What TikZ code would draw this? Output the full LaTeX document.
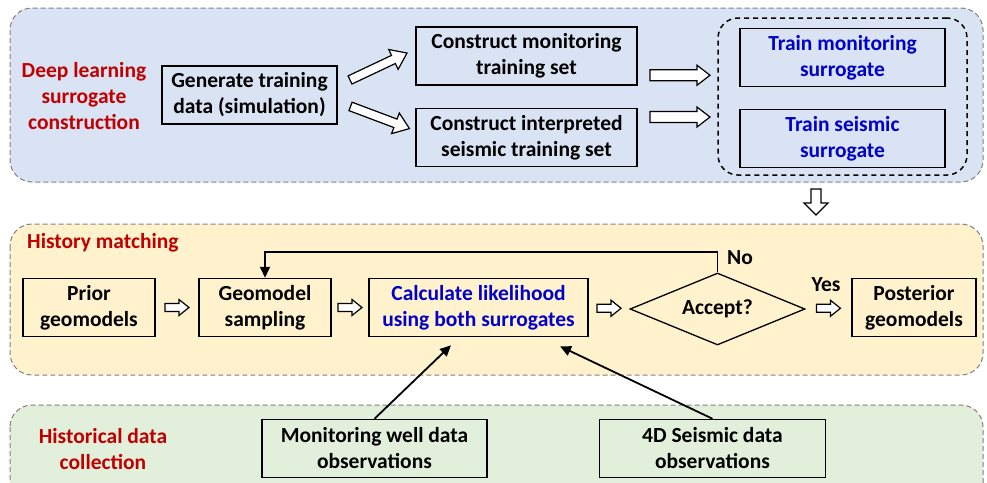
\documentclass[tikz,border=0pt]{standalone}
\usepackage{fontspec}
\setmainfont{Carlito}
\usetikzlibrary{shapes.geometric,arrows.meta,calc}
\definecolor{panelblue}{HTML}{DAE3F3}
\definecolor{panelyellow}{HTML}{FFF2CC}
\definecolor{panelgreen}{HTML}{E2EFDA}
\definecolor{headred}{HTML}{C00000}
\definecolor{stepblue}{HTML}{0000C8}
\definecolor{panelline}{HTML}{808080}

% hollow block arrow pointing along +x: {length}{shaft width}{head width}{head length}
\tikzset{
  pics/hollowarrow/.style n args={4}{code={
    \draw[line width=1.2pt, fill=white, line join=miter]
      ({-#1/2},{-#2/2}) -- ({#1/2-#4},{-#2/2}) -- ({#1/2-#4},{-#3/2}) -- ({#1/2},0)
      -- ({#1/2-#4},{#3/2}) -- ({#1/2-#4},{#2/2}) -- ({-#1/2},{#2/2}) -- cycle;
  }}
}

\begin{document}
\begin{tikzpicture}[x=1pt,y=-1pt,
  txt/.style={font=\fontsize{21.5}{26}\selectfont\bfseries, align=center, inner sep=0pt},
  box/.style={txt, draw=black, line width=1.5pt, minimum height=58pt},
  panel/.style={draw=panelline, line width=1pt, rounded corners=22pt, dash pattern=on 5pt off 3pt},
  blk/.style={line width=1.8pt, -{Triangle[length=11pt,width=10pt]}}
]
\useasboundingbox (0,0) rectangle (987,482);
\clip (0,0) rectangle (987,482);

% stage panels
\draw[panel, fill=panelblue] (10,8) rectangle (983,182);
\draw[panel, fill=panelyellow] (10,224) rectangle (983,375);
\draw[panel, fill=panelgreen] (10,405) rectangle (983,530);

% stage titles
\node[txt, text=headred] (titleA) at (84,96) {Deep learning\\surrogate\\construction};
\node[txt, text=headred, anchor=west] (titleB) at (27,243) {History matching};
\node[txt, text=headred] (titleC) at (103,449.5) {Historical data\\collection};

% surrogate construction
\node[box, minimum width=175pt] (gen) at (249.5,95) {Generate training\\data (simulation)};
\node[box, minimum width=221pt] (cm) at (526.5,56) {Construct monitoring\\training set};
\node[box, minimum width=221pt] (ci) at (526.5,137.5) {Construct interpreted\\seismic training set};
\node[draw=black, line width=1.5pt, dash pattern=on 5pt off 4pt, rounded corners=20pt,
  minimum width=249pt, minimum height=157pt, inner sep=0pt] (grp) at (842.5,96.5) {};
\node[box, text=stepblue, minimum width=205pt] (tm) at (842.5,57.5) {Train monitoring\\surrogate};
\node[box, text=stepblue, minimum width=205pt] (ts) at (842.5,138.5) {Train seismic\\surrogate};

\pic[rotate=25.3] at (378.5,66.5) {hollowarrow={63}{9}{22}{15}};
\pic[rotate=-20.6] at (380,117.5) {hollowarrow={63}{9}{22}{15}};
\pic at ($(cm.east)!0.5!(grp.west)+(2.5,-1)$) {hollowarrow={60}{11}{20}{13}};
\pic at ($(ci.east)!0.5!(grp.west)+(2.5,0)$) {hollowarrow={60}{11}{20}{13}};
\pic[rotate=-90] at (816,202) {hollowarrow={26}{10}{24}{12}};

% history matching
\node[box, minimum width=132pt] (prior) at (89,307.5) {Prior\\geomodels};
\node[box, minimum width=132pt] (geo) at (265,307.5) {Geomodel\\sampling};
\node[box, text=stepblue, minimum width=219pt] (calc) at (478.5,307.5) {Calculate likelihood\\using both surrogates};
\node[diamond, draw=black, line width=1.3pt, aspect=2.43, minimum width=175pt, minimum height=72pt,
  inner sep=0pt, font=\fontsize{21.5}{26}\selectfont\bfseries] (accept) at (717.5,309) {Accept?};
\node[box, minimum width=124pt] (post) at (914,307.5) {Posterior\\geomodels};

\pic at ($(prior.east)!0.5!(geo.west)$) {hollowarrow={24}{8}{16}{10}};
\pic at ($(geo.east)!0.5!(calc.west)$) {hollowarrow={24}{8}{16}{10}};
\pic at ($(calc.east)!0.5!(accept.west)$) {hollowarrow={24}{8}{16}{10}};
\pic at ($(accept.east)!0.5!(post.west)$) {hollowarrow={24}{8}{16}{10}};

\draw[blk] (accept.north) -- ++(0,-20) -| (geo.north);
\node[txt, anchor=west] (no) at (727,258) {No};
\node[txt] (yes) at (826,285) {Yes};

% observed data
\node[box, minimum width=225pt] (mw) at (374.5,448.5) {Monitoring well data\\observations};
\node[box, minimum width=226pt] (sd) at (712.5,448.5) {4D Seismic data\\observations};

\draw[blk] (mw.north) -- ($(calc.south)+(-27.5,8)$);
\draw[blk] (sd.north) -- ($(calc.south)+(81.5,9)$);
\end{tikzpicture}
\end{document}
